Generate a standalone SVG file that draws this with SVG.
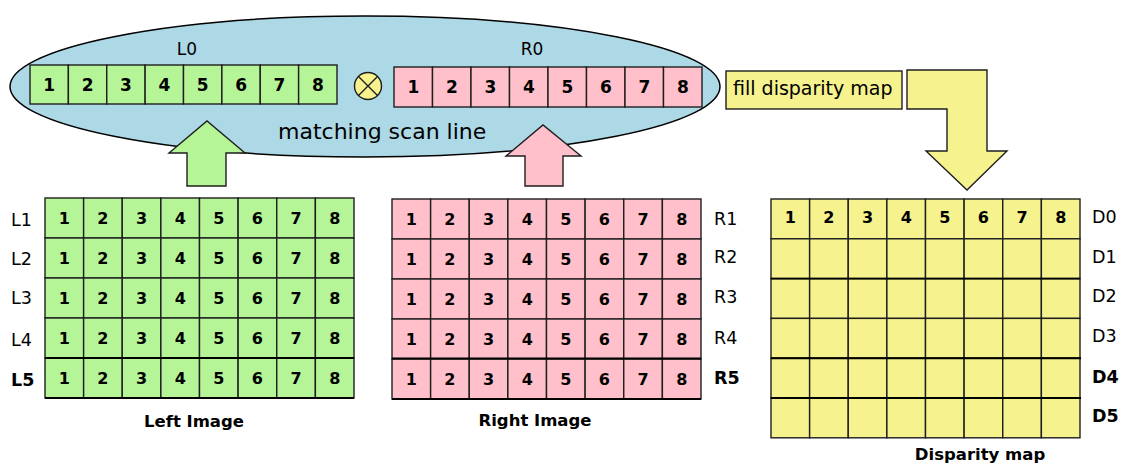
<svg xmlns="http://www.w3.org/2000/svg" width="1121" height="465" viewBox="0 0 1121 465">
  <style>
    text { font-family: "DejaVu Sans", "Liberation Sans", sans-serif; fill: #000; }
    .num { font-size: 16px; font-weight: bold; text-anchor: middle; }
    .num0 { font-size: 17px; font-weight: bold; text-anchor: middle; }
    .lab { font-size: 17.5px; }
    .labb { font-size: 17.5px; font-weight: bold; }
    .cap { font-size: 16.5px; font-weight: bold; text-anchor: middle; }
    .g { fill: #b5f597; stroke: #1e1e1e; stroke-width: 1.4; }
    .p { fill: #ffc0cb; stroke: #1e1e1e; stroke-width: 1.4; }
    .y { fill: #f6f28e; stroke: #1e1e1e; stroke-width: 1.4; }
  </style>
  <defs>
    <!-- one grid cell, width 38.625 x height 40 -->
    <rect id="cell" width="38.625" height="40"/>
    <rect id="cellD" width="38.625" height="39.8"/>
    <!-- eight cells of a row -->
    <g id="row8">
      <use href="#cell" x="0"/><use href="#cell" x="38.625"/><use href="#cell" x="77.25"/><use href="#cell" x="115.875"/>
      <use href="#cell" x="154.5"/><use href="#cell" x="193.125"/><use href="#cell" x="231.75"/><use href="#cell" x="270.375"/>
    </g>
    <g id="row8D">
      <use href="#cellD" x="0"/><use href="#cellD" x="38.625"/><use href="#cellD" x="77.25"/><use href="#cellD" x="115.875"/>
      <use href="#cellD" x="154.5"/><use href="#cellD" x="193.125"/><use href="#cellD" x="231.75"/><use href="#cellD" x="270.375"/>
    </g>
    <!-- digits 1..8 centred in the cells of a row -->
    <g id="digits">
      <text class="num" x="19.3" y="26">1</text><text class="num" x="57.9" y="26">2</text>
      <text class="num" x="96.6" y="26">3</text><text class="num" x="135.2" y="26">4</text>
      <text class="num" x="173.8" y="26">5</text><text class="num" x="212.4" y="26">6</text>
      <text class="num" x="251.1" y="26">7</text><text class="num" x="289.7" y="26">8</text>
    </g>
  </defs>

  <!-- scan line matching stage -->
  <g id="scanline">
    <ellipse cx="365" cy="86.5" rx="355" ry="70.5" fill="#add8e6" stroke="#000" stroke-width="1.5"/>
    <text x="278" y="139" style="font-size:22px">matching scan line</text>
  </g>

  <g id="row-L0">
    <text x="187" y="55" text-anchor="middle" style="font-size:17px">L0</text>
    <g class="g">
      <rect x="30" y="65" width="38.375" height="39"/><rect x="68.375" y="65" width="38.375" height="39"/>
      <rect x="106.75" y="65" width="38.375" height="39"/><rect x="145.125" y="65" width="38.375" height="39"/>
      <rect x="183.5" y="65" width="38.375" height="39"/><rect x="221.875" y="65" width="38.375" height="39"/>
      <rect x="260.25" y="65" width="38.375" height="39"/><rect x="298.625" y="65" width="38.375" height="39"/>
    </g>
    <text class="num0" x="49.2" y="91">1</text><text class="num0" x="87.6" y="91">2</text>
    <text class="num0" x="125.9" y="91">3</text><text class="num0" x="164.3" y="91">4</text>
    <text class="num0" x="202.7" y="91">5</text><text class="num0" x="241.1" y="91">6</text>
    <text class="num0" x="279.4" y="91">7</text><text class="num0" x="317.8" y="91">8</text>
  </g>

  <g id="match-op">
    <circle cx="368" cy="86" r="13.5" fill="#f6f28e" stroke="#1e1e1e" stroke-width="1.4"/>
    <path d="M358.5 76.5 L377.5 95.5 M377.5 76.5 L358.5 95.5" stroke="#1e1e1e" stroke-width="1.4"/>
  </g>

  <g id="row-R0">
    <text x="532" y="55" text-anchor="middle" style="font-size:17px">R0</text>
    <g class="p">
      <rect x="394" y="67" width="38.5" height="40"/><rect x="432.5" y="67" width="38.5" height="40"/>
      <rect x="471" y="67" width="38.5" height="40"/><rect x="509.5" y="67" width="38.5" height="40"/>
      <rect x="548" y="67" width="38.5" height="40"/><rect x="586.5" y="67" width="38.5" height="40"/>
      <rect x="625" y="67" width="38.5" height="40"/><rect x="663.5" y="67" width="38.5" height="40"/>
    </g>
    <text class="num0" x="413.3" y="93">1</text><text class="num0" x="451.8" y="93">2</text>
    <text class="num0" x="490.3" y="93">3</text><text class="num0" x="528.8" y="93">4</text>
    <text class="num0" x="567.3" y="93">5</text><text class="num0" x="605.8" y="93">6</text>
    <text class="num0" x="644.3" y="93">7</text><text class="num0" x="682.8" y="93">8</text>
  </g>

  <g id="fill-label">
    <rect x="726" y="71" width="176" height="38" fill="#f6f28e" stroke="#1e1e1e" stroke-width="1.4"/>
    <text x="733" y="95" style="font-size:19px">fill disparity map</text>
  </g>

  <!-- block arrows between stages -->
  <g id="connectors" stroke="#1e1e1e" stroke-width="1.4" stroke-linejoin="miter">
    <path d="M187 186 L187 153 L169 153 L207 121 L245 153 L226 153 L226 186 Z" fill="#b5f597"/>
    <path d="M525 186 L525 156 L506 156 L543 125 L581 156 L563 156 L563 186 Z" fill="#ffc0cb"/>
    <path d="M907 70 L987 70 L987 151 L1007 151 L967 190 L926 151 L947 151 L947 109 L907 109 Z" fill="#f6f28e"/>
  </g>

  <g id="left-image">
    <g class="g">
      <use href="#row8" x="45" y="198"/><use href="#row8" x="45" y="238"/><use href="#row8" x="45" y="278"/>
      <use href="#row8" x="45" y="318"/><use href="#row8" x="45" y="358"/>
    </g>
    <line x1="45" y1="358" x2="354" y2="358" stroke="#000" stroke-width="2.2"/>
    <line x1="45" y1="398" x2="354" y2="398" stroke="#000" stroke-width="2"/>
    <use href="#digits" x="45" y="198"/><use href="#digits" x="45" y="238"/><use href="#digits" x="45" y="278"/>
    <use href="#digits" x="45" y="318"/><use href="#digits" x="45" y="358"/>
    <text class="lab" x="11" y="226">L1</text>
    <text class="lab" x="11" y="265">L2</text>
    <text class="lab" x="11" y="304">L3</text>
    <text class="lab" x="11" y="346">L4</text>
    <text class="labb" x="11" y="386">L5</text>
    <text class="cap" x="194" y="427">Left Image</text>
  </g>

  <g id="right-image">
    <g class="p">
      <use href="#row8" x="392" y="199"/><use href="#row8" x="392" y="239"/><use href="#row8" x="392" y="279"/>
      <use href="#row8" x="392" y="319"/><use href="#row8" x="392" y="359"/>
    </g>
    <line x1="392" y1="358.5" x2="701" y2="358.5" stroke="#000" stroke-width="2.2"/>
    <line x1="392" y1="399" x2="701" y2="399" stroke="#000" stroke-width="2"/>
    <use href="#digits" x="392" y="199"/><use href="#digits" x="392" y="239"/><use href="#digits" x="392" y="279"/>
    <use href="#digits" x="392" y="319"/><use href="#digits" x="392" y="359"/>
    <text class="lab" x="714" y="225">R1</text>
    <text class="lab" x="714" y="263">R2</text>
    <text class="lab" x="714" y="303">R3</text>
    <text class="lab" x="714" y="344">R4</text>
    <text class="labb" x="714" y="384">R5</text>
    <text class="cap" x="535" y="426">Right Image</text>
  </g>

  <g id="disparity-map">
    <g class="y">
      <use href="#row8D" x="771" y="199"/><use href="#row8D" x="771" y="238.8"/><use href="#row8D" x="771" y="278.6"/>
      <use href="#row8D" x="771" y="318.4"/><use href="#row8D" x="771" y="358.2"/><use href="#row8D" x="771" y="398"/>
    </g>
    <line x1="771" y1="278.6" x2="1080" y2="278.6" stroke="#000" stroke-width="1.8"/>
    <line x1="771" y1="358.2" x2="1081" y2="358.2" stroke="#000" stroke-width="2"/>
    <line x1="771" y1="398" x2="1081" y2="398" stroke="#000" stroke-width="2"/>
    <use href="#digits" x="771" y="197"/>
    <text class="lab" x="1092" y="223">D0</text>
    <text class="lab" x="1092" y="263">D1</text>
    <text class="lab" x="1092" y="302">D2</text>
    <text class="lab" x="1092" y="342">D3</text>
    <text class="labb" x="1092" y="383">D4</text>
    <text class="labb" x="1092" y="422">D5</text>
    <text class="cap" x="980" y="460">Disparity map</text>
  </g>
</svg>
